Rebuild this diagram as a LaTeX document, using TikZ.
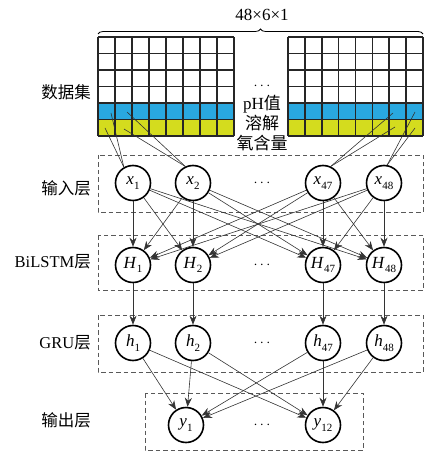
\documentclass[tikz,border=0pt]{standalone}
\usepackage{fontspec}
\setmainfont{Liberation Serif}
\newfontfamily\cjk{Noto Sans CJK SC}
\usetikzlibrary{arrows.meta,decorations.pathreplacing}
\definecolor{cellblue}{RGB}{41,168,224}
\definecolor{cellyellow}{RGB}{212,220,30}
\newcommand{\nv}[2]{\textit{#1}\raisebox{-0.6ex}{\fontsize{11}{11}\selectfont #2}}
\begin{document}
\begin{tikzpicture}[x=1pt,y=-1pt,
  neuron/.style={circle,draw,line width=1.6pt,minimum size=35pt,inner sep=0pt,font=\fontsize{17}{17}\selectfont},
  layerbox/.style={draw=black!65,line width=0.7pt,dash pattern=on 4.5pt off 3pt},
  conn/.style={draw=black!80,line width=0.6pt},
  arr/.style={conn,-{Stealth[length=9pt,width=7pt]}},
  lbl/.style={anchor=east,inner sep=0pt,font=\fontsize{16.5}{18}\selectfont},
  gridline/.style={line width=1.6pt,draw=black!85},
  midtext/.style={inner sep=0pt,font=\fontsize{17}{18}\selectfont\cjk},
  dotsnode/.style={inner sep=0pt,font=\fontsize{14}{14}\selectfont}]
\useasboundingbox (0,0) rectangle (434,454);

% data grids
\fill[cellblue] (98,103) rectangle (234,119.5);
\fill[cellyellow] (98,119.5) rectangle (234,136);
\foreach \i in {0,...,8} \draw[gridline] ({98+17*\i},37) -- ({98+17*\i},136);
\foreach \j in {0,...,6} \draw[gridline] (98,{37+16.5*\j}) -- (234,{37+16.5*\j});
\fill[cellblue] (288,103) rectangle (423,119.5);
\fill[cellyellow] (288,119.5) rectangle (423,136);
\foreach \i in {0,...,8} \draw[gridline] ({288+16.875*\i},37) -- ({288+16.875*\i},136);
\foreach \j in {0,...,6} \draw[gridline] (288,{37+16.5*\j}) -- (423,{37+16.5*\j});

% brace and title
\draw[decorate,decoration={brace,amplitude=5pt},line width=0.8pt] (98,34) -- (423,34);
\node[inner sep=0pt,font=\fontsize{17}{17}\selectfont] (title) at (262,15) {48×6×1};
\node[dotsnode] (gdots) at (262,86) {$\cdots$};
\node[midtext] (ph) at (262,104) {\rmfamily pH\cjk 值};
\node[midtext] (rj) at (262,123) {溶解};
\node[midtext] (yhl) at (262,143) {氧含量};

% left labels
\node[lbl] (Ldata) at (91,92) {\cjk 数据集};
\node[lbl] (Lin) at (91,188) {\cjk 输入层};
\node[lbl] (Lbi) at (91,262) {BiLSTM\cjk 层};
\node[lbl] (Lgru) at (91,343) {GRU\cjk 层};
\node[lbl] (Lout) at (91,420) {\cjk 输出层};

% layer boxes
\draw[layerbox] (98,155) rectangle (423,212);
\draw[layerbox] (98,235) rectangle (423,290);
\draw[layerbox] (98,315) rectangle (423,372);
\draw[layerbox] (145,393) rectangle (363,450);

% neurons
\foreach \n/\xx/\s in {1/133/1, 2/193/2, 47/323/47, 48/384/48}{
  \node[neuron] (x\n) at (\xx,183) {\nv{x}{\s}};
  \node[neuron] (H\n) at (\xx,265) {\nv{H}{\s}};
  \node[neuron] (h\n) at (\xx,343) {\nv{h}{\s}};
}
\node[neuron] (y1) at (186,425) {\nv{y}{1}};
\node[neuron] (y12) at (323,425) {\nv{y}{12}};
\node[dotsnode] (dx) at (262,183) {$\cdots$};
\node[dotsnode] (dH) at (262,265) {$\cdots$};
\node[dotsnode] (dh) at (262,343) {$\cdots$};
\node[dotsnode] (dy) at (262,425) {$\cdots$};

% grid to input
\coordinate (b1) at (111,113); \coordinate (c1) at (105,128);
\coordinate (b2) at (127,112); \coordinate (c2) at (124,129);
\coordinate (b47) at (393,113); \coordinate (c47) at (395,127);
\coordinate (b48) at (415,112); \coordinate (c48) at (415,128);
\foreach \n/\ang in {1/120,2/115,47/65,48/80}{
  \draw[conn] (b\n) -- (x\n.\ang);
  \draw[conn] (c\n) -- (x\n.\ang);
}

% input to BiLSTM
\foreach \a in {1,2,47,48}{
  \foreach \b in {1,2,47,48}{
    \draw[arr] (x\a) -- (H\b);
  }
}
% BiLSTM to GRU
\foreach \n in {1,2,47,48}{ \draw[arr] (H\n) -- (h\n); }
% GRU to output
\foreach \n in {1,2,47,48}{
  \draw[arr] (h\n) -- (y1);
  \draw[arr] (h\n) -- (y12);
}
\end{tikzpicture}
\end{document}
